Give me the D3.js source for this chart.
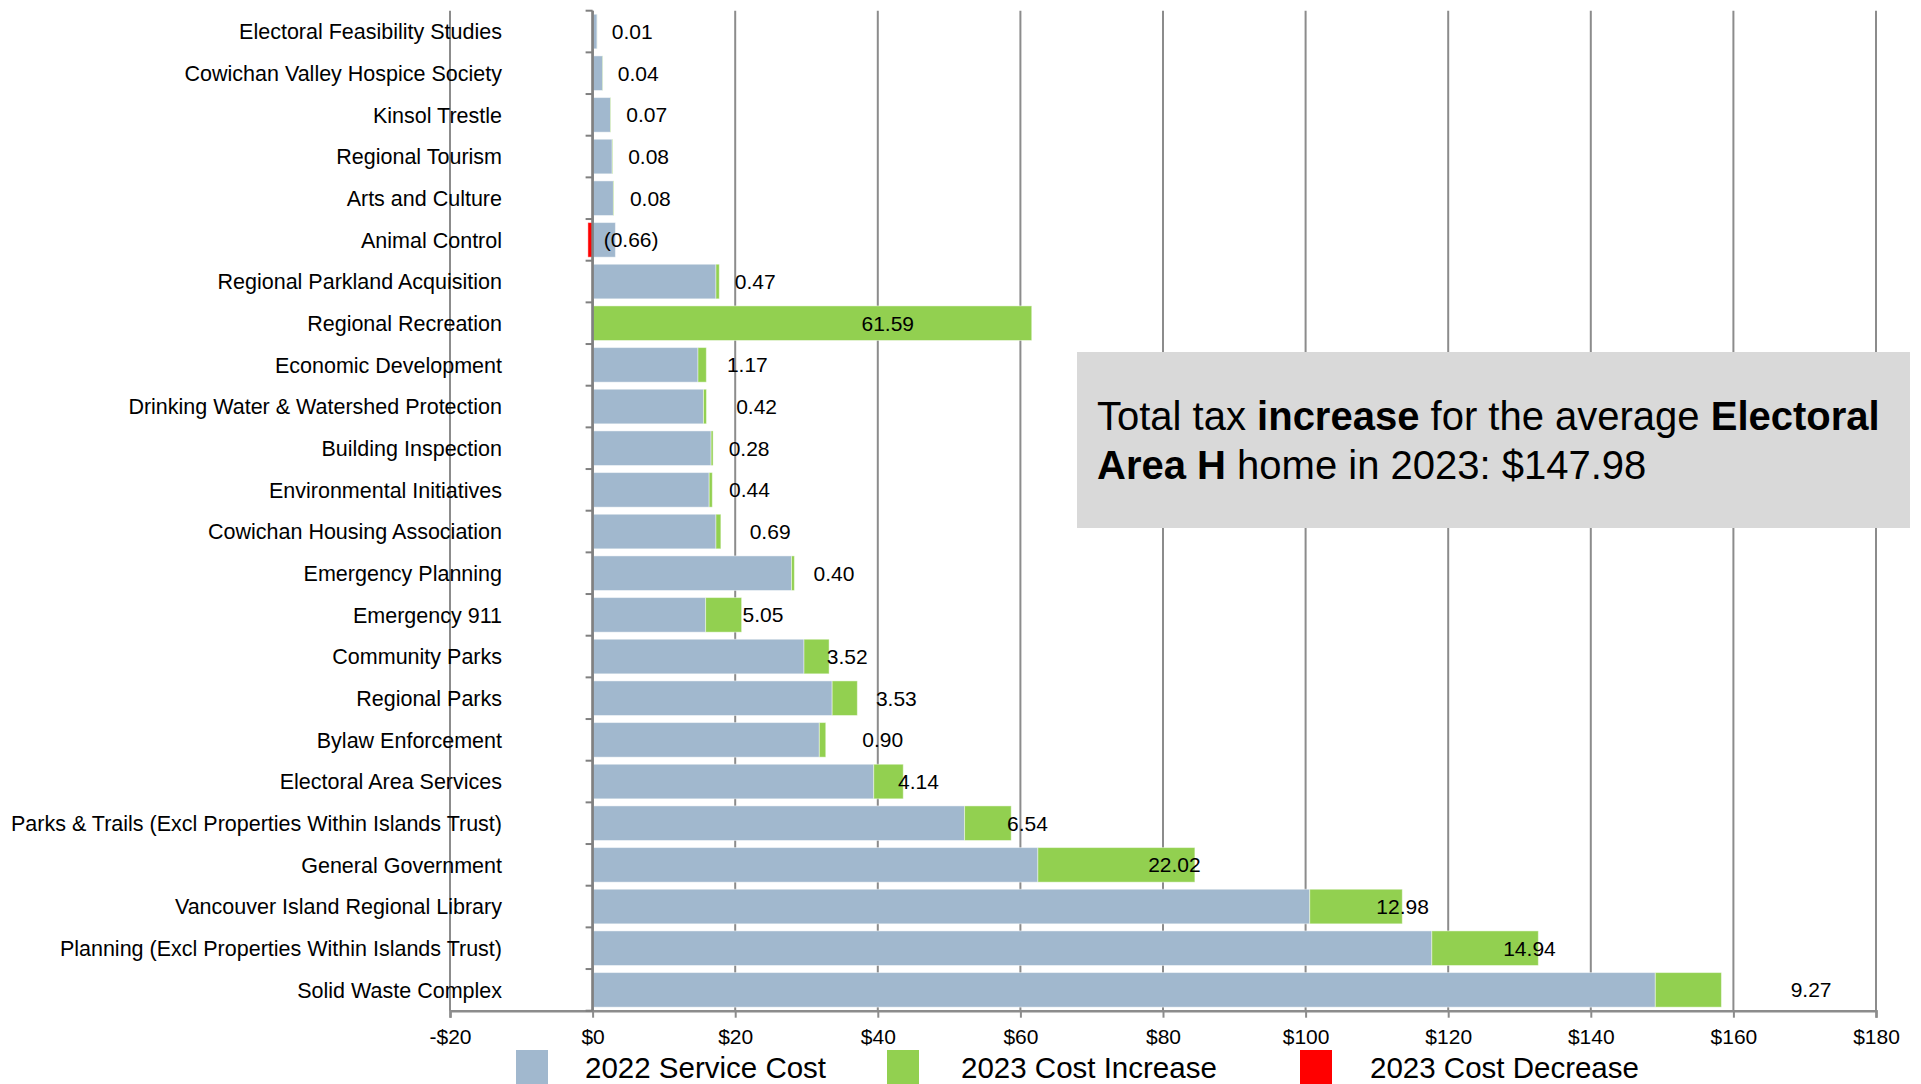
<!DOCTYPE html>
<html>
<head>
<meta charset="utf-8">
<script src="https://cdn.jsdelivr.net/npm/d3@7"></script>
<style>
  body { margin: 0; background: #fff; }
  svg { display: block; font-family: "Liberation Sans", Arial, sans-serif; }
  .cat-label { font-size: 21.5px; fill: #000; }
  .val-label { font-size: 21px; fill: #000; }
  .x-axis text { font-size: 21px; fill: #000; font-family: "Liberation Sans", Arial, sans-serif; }
  .legend text { font-size: 29.5px; fill: #000; }
  .note { font-size: 40px; fill: #000; }
</style>
</head>
<body>
<svg id="chart" width="1921" height="1084"></svg>
<script>
// Services, top to bottom
const categories = [
  'Electoral Feasibility Studies', 'Cowichan Valley Hospice Society', 'Kinsol Trestle',
  'Regional Tourism', 'Arts and Culture', 'Animal Control', 'Regional Parkland Acquisition',
  'Regional Recreation', 'Economic Development', 'Drinking Water & Watershed Protection',
  'Building Inspection', 'Environmental Initiatives', 'Cowichan Housing Association',
  'Emergency Planning', 'Emergency 911', 'Community Parks', 'Regional Parks',
  'Bylaw Enforcement', 'Electoral Area Services',
  'Parks & Trails (Excl Properties Within Islands Trust)', 'General Government',
  'Vancouver Island Regional Library', 'Planning (Excl Properties Within Islands Trust)',
  'Solid Waste Complex'
];

// 2022 service cost ($)
const cost2022 = [0.63, 1.42, 2.51, 2.75, 2.92, 3.2, 17.3, 0, 14.78, 15.55, 16.62, 16.35,
  17.3, 27.9, 15.85, 29.65, 33.6, 31.8, 39.43, 52.17, 62.45, 100.58, 117.7, 149.05];

// 2023 change ($)
const increase2023 = [0.01, 0.04, 0.07, 0.08, 0.08, 0, 0.47, 61.59, 1.17, 0.42, 0.28, 0.44,
  0.69, 0.40, 5.05, 3.52, 3.53, 0.90, 4.14, 6.54, 22.02, 12.98, 14.94, 9.27];
const decrease2023 = [0, 0, 0, 0, 0, -0.66, 0, 0, 0, 0, 0, 0,
  0, 0, 0, 0, 0, 0, 0, 0, 0, 0, 0, 0];

// where each data label sits (in $ along the axis), as placed in the original
const labelAt = [5.55, 6.4, 7.6, 7.85, 8.1, 5.4, 22.8, 41.4, 21.7, 23.0, 21.95, 22.0,
  24.9, 33.85, 23.9, 35.7, 42.6, 40.7, 45.7, 61.0, 81.6, 113.6, 131.4, 170.9];

const xTicks = [-20, 0, 20, 40, 60, 80, 100, 120, 140, 160, 180];

const seriesNames = ['2022 Service Cost', '2023 Cost Increase', '2023 Cost Decrease'];
const seriesColors = ['#a1b8ce', '#92d050', '#ff0000'];

const svg = d3.select('#chart');

const x = d3.scaleLinear().domain([-20, 180]).range([450, 1876]);
const y = d3.scaleBand().domain(categories).range([10.7, 1010.7])
  .paddingInner(0.17).paddingOuter(0.085);
const yTop = y.range()[0], yBot = y.range()[1];

// vertical gridlines
svg.append('g').selectAll('line').data(xTicks).join('line')
  .attr('x1', d => x(d)).attr('x2', d => x(d))
  .attr('y1', yTop).attr('y2', yBot)
  .attr('stroke', '#8c8c8c').attr('stroke-width', 2);

// bars
const rows = categories.map((c, i) => ({
  c, cost: cost2022[i], inc: increase2023[i], dec: decrease2023[i], lab: labelAt[i]
}));

const bars = svg.append('g');
bars.selectAll('.cost').data(rows).join('rect')
  .attr('x', x(0)).attr('y', d => y(d.c))
  .attr('width', d => x(d.cost) - x(0)).attr('height', y.bandwidth())
  .attr('fill', seriesColors[0]);
bars.selectAll('.inc').data(rows.filter(d => d.inc > 0)).join('rect')
  .attr('x', d => x(d.cost)).attr('y', d => y(d.c))
  .attr('width', d => x(d.cost + d.inc) - x(d.cost)).attr('height', y.bandwidth())
  .attr('fill', seriesColors[1]);
bars.selectAll('.dec').data(rows.filter(d => d.dec < 0)).join('rect')
  .attr('x', d => x(d.dec)).attr('y', d => y(d.c))
  .attr('width', d => x(0) - x(d.dec)).attr('height', y.bandwidth())
  .attr('fill', seriesColors[2]);
bars.selectAll('rect')
  .attr('stroke', '#ffffff').attr('stroke-opacity', 0.45).attr('stroke-width', 1);

// x axis
const xAxis = d3.axisBottom(x).tickValues(xTicks)
  .tickFormat(d => d < 0 ? '-$' + (-d) : '$' + d)
  .tickSize(7).tickPadding(11);
const gx = svg.append('g').attr('class', 'x-axis')
  .attr('transform', `translate(0,${yBot})`).call(xAxis);
gx.select('.domain').attr('stroke', '#8c8c8c').attr('stroke-width', 2.5);
gx.selectAll('.tick line').attr('stroke', '#8c8c8c').attr('stroke-width', 2);

// y axis line at $0 with ticks on the band boundaries
const step = y.step();
const bounds = categories.map(c => y(c) - y.paddingOuter() * step).concat([yBot]);
svg.append('line')
  .attr('x1', x(0)).attr('x2', x(0)).attr('y1', yTop).attr('y2', yBot)
  .attr('stroke', '#808080').attr('stroke-width', 2.6);
svg.append('g').selectAll('line').data(bounds).join('line')
  .attr('x1', x(0) - 7).attr('x2', x(0)).attr('y1', d => d).attr('y2', d => d)
  .attr('stroke', '#808080').attr('stroke-width', 2);

// category labels
svg.append('g').selectAll('text').data(categories).join('text')
  .attr('class', 'cat-label')
  .attr('x', 502).attr('y', d => y(d) + y.bandwidth() / 2)
  .attr('dy', '0.36em').attr('text-anchor', 'end')
  .text(d => d);

// value labels
const fmt = d3.format('.2f');
svg.append('g').selectAll('text').data(rows).join('text')
  .attr('class', 'val-label')
  .attr('x', d => x(d.lab)).attr('y', d => y(d.c) + y.bandwidth() / 2)
  .attr('dy', '0.36em').attr('text-anchor', 'middle')
  .text(d => d.dec < 0 ? '(' + fmt(-d.dec) + ')' : fmt(d.inc));

// annotation box
const note = svg.append('g');
note.append('rect').attr('x', 1077).attr('y', 352).attr('width', 833).attr('height', 176)
  .attr('fill', '#d9d9d9');
const t1 = note.append('text').attr('class', 'note').attr('x', 1097).attr('y', 430);
t1.append('tspan').text('Total tax ');
t1.append('tspan').attr('font-weight', 'bold').text('increase');
t1.append('tspan').text(' for the average ');
t1.append('tspan').attr('font-weight', 'bold').text('Electoral');
const t2 = note.append('text').attr('class', 'note').attr('x', 1097).attr('y', 479);
t2.append('tspan').attr('font-weight', 'bold').text('Area H');
t2.append('tspan').text(' home in 2023: $147.98');

// legend
const legendX = [516, 887, 1300];
const legendTextX = [585, 961, 1370];
const legend = svg.append('g').attr('class', 'legend');
seriesNames.forEach((name, i) => {
  legend.append('rect').attr('x', legendX[i]).attr('y', 1050)
    .attr('width', 32).attr('height', 34).attr('fill', seriesColors[i]);
  legend.append('text').attr('x', legendTextX[i]).attr('y', 1078).text(name);
});
</script>
</body>
</html>
